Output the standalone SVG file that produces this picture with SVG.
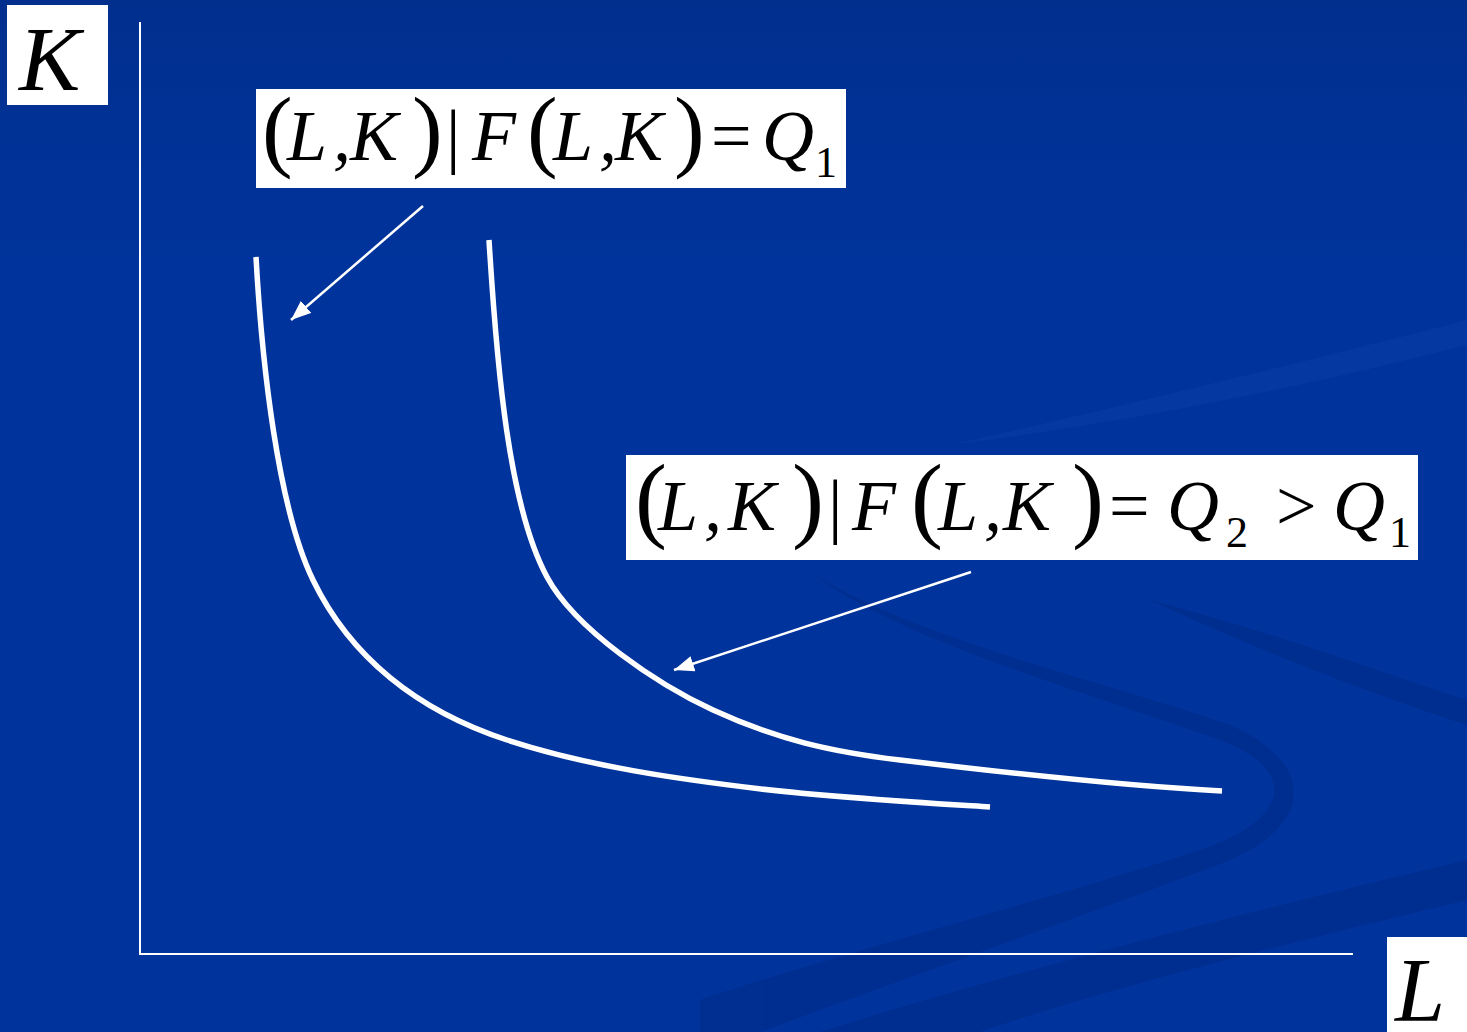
<svg xmlns="http://www.w3.org/2000/svg" width="1467" height="1032" viewBox="0 0 1467 1032">
<style>
.box{fill:#ffffff}
.m{font-family:"Liberation Serif","Times New Roman",serif;fill:#000}
.i{font-style:italic}
.curve{fill:none;stroke:#ffffff;stroke-width:5.5}
.axis{stroke:#ffffff;stroke-width:2;fill:none}
.conn{stroke:#ffffff;stroke-width:2.5;fill:none}
</style>
<defs>
<linearGradient id="bg" x1="0" y1="0" x2="0" y2="1">
<stop offset="0" stop-color="#002f8e"/>
<stop offset="0.25" stop-color="#00339b"/>
<stop offset="1" stop-color="#00339c"/>
</linearGradient>
<marker id="ah" markerUnits="userSpaceOnUse" markerWidth="22" markerHeight="18" refX="20" refY="8" orient="auto">
<path d="M0,0 L20,8 L0,16 Z" fill="#ffffff"/>
</marker>
</defs>
<rect x="0" y="0" width="1467" height="1032" fill="url(#bg)"/>
<g id="background-swooshes" opacity="0.5">
<path d="M950,445 C1150,400 1350,350 1467,320 L1467,345 C1330,380 1150,420 950,445 Z" fill="#0a3fa8"/>
<path d="M815,575 C900,640 1080,690 1220,740 C1300,770 1290,820 1200,850 C1050,900 850,950 700,1000 L700,1032 L760,1032 C900,980 1100,910 1230,860 C1320,820 1310,760 1230,725 C1100,680 920,640 815,575 Z" fill="#002a85"/>
<path d="M820,1032 C1050,960 1300,900 1467,860 L1467,900 C1300,940 1100,990 980,1032 Z" fill="#002a85"/>
<path d="M1150,600 C1300,640 1400,680 1467,700 L1467,725 C1390,700 1280,660 1150,600 Z" fill="#002a85"/>
</g>
<g id="axes">
<line class="axis" x1="140" y1="22" x2="140" y2="955"/>
<line class="axis" x1="139" y1="954" x2="1353" y2="954"/>
</g>
<g id="curves">
<path id="isoquant-q1" class="curve" d="M256,257 C262,365 278,508 313,580 C350,656.5 416.75,710.5 507,740 C588,766.4 677,779 761,789 C840,798 910,802 990,807"/>
<path id="isoquant-q2" class="curve" d="M489,240 C497,370 509,506.6 547,577 C575.5,629.8 658.5,684.9 713,710 C776.6,739.3 830,751.6 900,760 C999,772 1122,786 1222,791"/>
</g>
<g id="axis-label-K">
<rect class="box" x="7" y="5" width="101" height="100"/>
<text class="m i" x="19" y="90" font-size="92">K</text>
</g>
<g id="axis-label-L">
<rect class="box" x="1387" y="937" width="80" height="95"/>
<text class="m i" x="1395" y="1021" font-size="90">L</text>
</g>
<g id="label-q1">
<rect class="box" x="256" y="89" width="590" height="99"/>
<text class="m" y="160" font-size="72"><tspan x="262" font-size="92">(</tspan><tspan x="287" class="i">L</tspan><tspan x="333" class="i">,</tspan><tspan x="350" class="i">K</tspan><tspan x="412" font-size="92">)</tspan><tspan x="446">|</tspan><tspan x="472" class="i">F</tspan><tspan x="527" font-size="92">(</tspan><tspan x="553" class="i">L</tspan><tspan x="599" class="i">,</tspan><tspan x="615" class="i">K</tspan><tspan x="674" font-size="92">)</tspan><tspan x="711">=</tspan><tspan x="762" class="i">Q</tspan><tspan x="815" y="177" font-size="44">1</tspan></text>
</g>
<g id="label-q2">
<rect class="box" x="626" y="455" width="792" height="105"/>
<text class="m" y="530" font-size="72"><tspan x="635" font-size="96">(</tspan><tspan x="658" class="i">L</tspan><tspan x="704" class="i">,</tspan><tspan x="728" class="i">K</tspan><tspan x="792" font-size="96">)</tspan><tspan x="828">|</tspan><tspan x="852" class="i">F</tspan><tspan x="911" font-size="96">(</tspan><tspan x="938" class="i">L</tspan><tspan x="984" class="i">,</tspan><tspan x="1003" class="i">K</tspan><tspan x="1072" font-size="96">)</tspan><tspan x="1109">=</tspan><tspan x="1167" class="i">Q</tspan><tspan x="1226" y="547" font-size="44">2</tspan><tspan x="1276" y="530">&gt;</tspan><tspan x="1333" class="i">Q</tspan><tspan x="1389" y="547" font-size="44">1</tspan></text>
</g>
<g id="connectors">
<line class="conn" x1="423" y1="206" x2="291" y2="320" marker-end="url(#ah)"/>
<line class="conn" x1="971" y1="572" x2="674" y2="670" marker-end="url(#ah)"/>
</g>
</svg>
